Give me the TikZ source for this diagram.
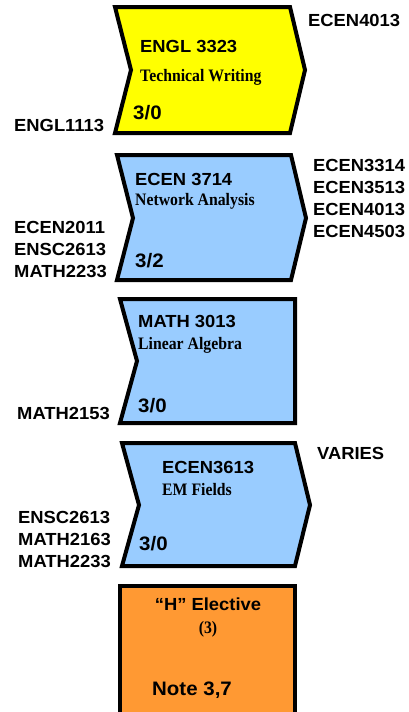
\documentclass[tikz,border=0pt]{standalone}
\usepackage{fontspec}
\setmainfont{Liberation Serif}
\newfontfamily\arialf{Liberation Sans}
\usepackage{graphicx}
\newcommand\wx[1]{\scalebox{1.05}[1]{#1}}
\newcommand\wn[1]{\scalebox{0.9}[1]{#1}}
\definecolor{cyel}{HTML}{FFFF00}
\definecolor{cblue}{HTML}{99CCFF}
\definecolor{corange}{HTML}{FF9933}
\tikzset{
 box/.style={draw=black, line width=4pt, line join=miter, miter limit=10},
 lab/.style={inner sep=0pt, anchor=base west, font=\arialf\bfseries\fontsize{17.5}{17.5}\selectfont},
 big/.style={inner sep=0pt, anchor=base west, font=\arialf\bfseries\fontsize{19.5}{19.5}\selectfont},
 sub/.style={inner sep=0pt, anchor=base west, font=\rmfamily\bfseries\fontsize{17.5}{17.5}\selectfont},
}
\begin{document}
\begin{tikzpicture}[x=1pt,y=-1pt]
\useasboundingbox (0,0) rectangle (408,712);
\clip (0,0) rectangle (408,712);
% shapes
\draw[box, fill=cyel] (115,7) -- (290,7) -- (305,70) -- (290,133) -- (115,133) -- (131,70) -- cycle;
\draw[box, fill=cblue] (117,155) -- (291,155) -- (306,218) -- (291,280) -- (117,280) -- (133,218) -- cycle;
\draw[box, fill=cblue] (120,299) -- (295,299) -- (295,423) -- (120,423) -- (137,361) -- cycle;
\draw[box, fill=cblue] (122,443) -- (295,443) -- (310,505) -- (295,566) -- (122,566) -- (139,505) -- cycle;
\draw[box, fill=corange] (120,730) -- (120,586) -- (295,586) -- (295,730);
% course 1
\node[lab] (r1) at (308,26) {\wx{ECEN4013}};
\node[lab] (l1) at (14,131) {\wx{ENGL1113}};
\node[lab] (t1) at (140,52.7) {\wx{ENGL 3323}};
\node[sub] (d1) at (140,81.7) {\wn{Technical Writing}};
\node[big] (c1) at (133,119) {\wx{3/0}};
% course 2
\node[lab] (t2) at (135,185) {\wx{ECEN 3714}};
\node[sub] (d2) at (135,205) {\wn{Network Analysis}};
\node[big] (c2) at (135,267) {\wx{3/2}};
\node[lab] (r2a) at (313,171.5) {\wx{ECEN3314}};
\node[lab] (r2b) at (313,193) {\wx{ECEN3513}};
\node[lab] (r2c) at (313,215) {\wx{ECEN4013}};
\node[lab] (r2d) at (313,237) {\wx{ECEN4503}};
\node[lab] (l2a) at (14,233) {\wx{ECEN2011}};
\node[lab] (l2b) at (14,255) {\wx{ENSC2613}};
\node[lab] (l2c) at (14,277) {\wx{MATH2233}};
% course 3
\node[lab] (t3) at (138,327) {\wx{MATH 3013}};
\node[sub] (d3) at (138,349) {\wn{Linear Algebra}};
\node[big] (c3) at (138,412) {\wx{3/0}};
\node[lab] (l3) at (17,419) {\wx{MATH2153}};
% course 4
\node[lab] (t4) at (162,473) {\wx{ECEN3613}};
\node[sub] (d4) at (162,495) {\wn{EM Fields}};
\node[big] (c4) at (139,550) {\wx{3/0}};
\node[lab] (r4) at (317,459) {\wx{VARIES}};
\node[lab] (l4a) at (18,523) {\wx{ENSC2613}};
\node[lab] (l4b) at (18,545) {\wx{MATH2163}};
\node[lab] (l4c) at (18,567) {\wx{MATH2233}};
% elective
\node[lab, anchor=base] (t5) at (208,610) {\wx{“H” Elective}};
\node[sub, anchor=base] (d5) at (208,633) {\wn{(3)}};
\node[big] (c5) at (152,695) {\wx{Note 3,7}};
\end{tikzpicture}
\end{document}
